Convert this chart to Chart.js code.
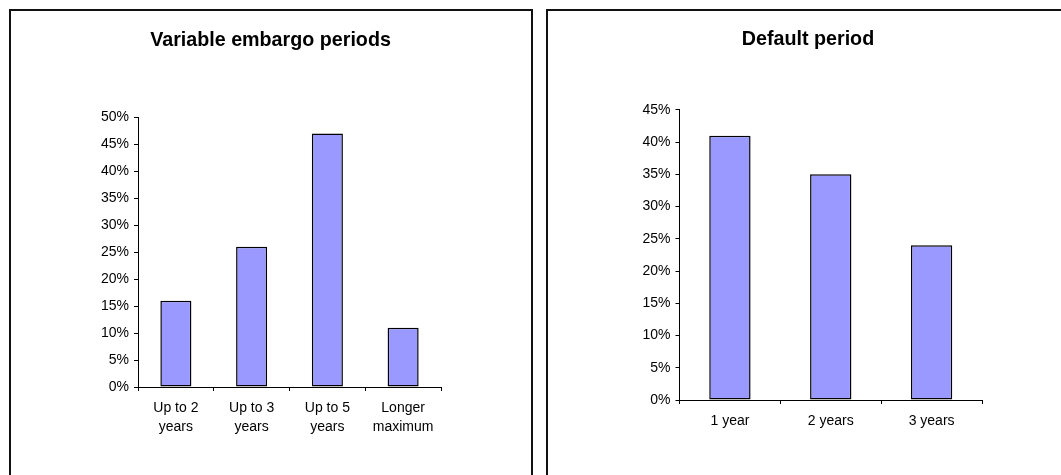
<!DOCTYPE html>
<html lang="en">
<head>
    <meta charset="utf-8">
    <title>Embargo periods</title>
    <style>
    body,
    html {
        margin: 0;
        background: #fff;
        overflow: hidden;
    }
    .box {
        position: absolute;
        top: 9px;
        width: 520px;
        height: 480px;
        border: 2px solid #111;
    }
    #boxLeft { left: 9px; }
    #boxRight { left: 546px; }
    canvas { display: block; }
    </style>
    <script src="https://cdn.jsdelivr.net/npm/chart.js"></script>
</head>
<body>
    <div class="box" id="boxLeft"><canvas id="embargoChart" width="520" height="470"></canvas></div>
    <div class="box" id="boxRight"><canvas id="defaultChart" width="520" height="470"></canvas></div>

    <script type="text/javascript">
        // data
        var embargoTitle = 'Variable embargo periods';
        var embargoLabels = [['Up to 2', 'years'], ['Up to 3', 'years'], ['Up to 5', 'years'], ['Longer', 'maximum']];
        var embargoValues = [16, 26, 47, 11];
        var embargoMax = 50;

        var defaultTitle = 'Default period';
        var defaultLabels = ['1 year', '2 years', '3 years'];
        var defaultValues = [41, 35, 24];
        var defaultMax = 45;

        var tickStep = 5;

        Chart.defaults.font.family = '"Liberation Sans", Arial, sans-serif';
        Chart.defaults.color = '#000';

        function makeChart(id, title, labels, values, max, pad) {
            var ctx = document.getElementById(id).getContext('2d');
            return new Chart(ctx, {
                type: 'bar',
                data: {
                    labels: labels,
                    datasets: [{
                        data: values,
                        backgroundColor: '#9999ff',
                        borderColor: '#000',
                        borderWidth: 1.5,
                        borderSkipped: false,
                        categoryPercentage: 0.41,
                        barPercentage: 1
                    }]
                },
                options: {
                    responsive: false,
                    animation: false,
                    layout: {
                        padding: { left: pad.left, right: pad.right, top: 0, bottom: pad.bottom }
                    },
                    plugins: {
                        legend: { display: false },
                        tooltip: { enabled: false },
                        title: {
                            display: true,
                            text: title,
                            color: '#000',
                            font: { size: 19.7, weight: 'bold', lineHeight: 1.2 },
                            padding: { top: pad.titleTop, bottom: pad.titleBottom }
                        }
                    },
                    scales: {
                        x: {
                            grid: { drawOnChartArea: false, color: '#000', tickLength: 4 },
                            border: { color: '#000', width: 1 },
                            ticks: { font: { size: 14, lineHeight: 1.4 }, padding: 7, maxRotation: 0, autoSkip: false },
                            afterFit: function (scale) { scale.height = 60; }
                        },
                        y: {
                            min: 0,
                            max: max,
                            grid: { drawOnChartArea: false, color: '#000', tickLength: 4 },
                            border: { color: '#000', width: 1 },
                            ticks: {
                                stepSize: tickStep,
                                font: { size: 14 },
                                padding: 5,
                                callback: function (v) { return v + '%'; }
                            },
                            afterFit: function (scale) { scale.width = pad.axis; }
                        }
                    }
                }
            });
        }

        makeChart('embargoChart', embargoTitle, embargoLabels, embargoValues, embargoMax,
            { left: 89, right: 90, bottom: 34, axis: 38, titleTop: 18, titleBottom: 64.7 });
        makeChart('defaultChart', defaultTitle, defaultLabels, defaultValues, defaultMax,
            { left: 86, right: 86, bottom: 21, axis: 45.5, titleTop: 16.5, titleBottom: 58.7 });
    </script>
</body>
</html>
